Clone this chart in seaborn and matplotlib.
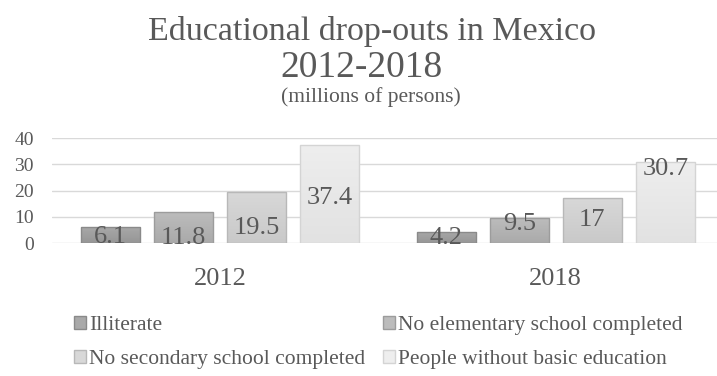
import numpy as np
import pandas as pd
import matplotlib
matplotlib.use("Agg")
import matplotlib.pyplot as plt
import seaborn as sns
from matplotlib.colors import LinearSegmentedColormap
from matplotlib.patches import Patch

# Data (millions of persons)
years = ["2012", "2018"]
groups = [
    "Illiterate",
    "No elementary school completed",
    "No secondary school completed",
    "People without basic education",
]
values_2012 = [6.1, 11.8, 19.5, 37.4]
values_2018 = [4.2, 9.5, 17.0, 30.7]
value_labels_2012 = ["6.1", "11.8", "19.5", "37.4"]
value_labels_2018 = ["4.2", "9.5", "17", "30.7"]

# Vertical placement of the value labels (data units)
label_y_2012 = [2.3, 1.9, 5.7, 17.1]
label_y_2018 = [1.9, 7.2, 8.8, 28.2]

# Gradient fills (top, bottom) and outlines for each group
fill_top = ["#a9a9a9", "#bcbcbc", "#d8d8d8", "#eeeeee"]
fill_bottom = ["#969696", "#aaaaaa", "#c9c9c9", "#e2e2e2"]
edge_colors = ["#8a8a8a", "#9c9c9c", "#b8b8b8", "#d4d4d4"]
text_color = "#595959"
grid_color = "#d9d9d9"

df = pd.DataFrame({
    "year": np.repeat(years, len(groups)),
    "group": groups * len(years),
    "value": values_2012 + values_2018,
})

sns.set_theme(style="white")
plt.rcParams["font.family"] = ["Liberation Serif", "DejaVu Serif"]

fig = plt.figure(figsize=(7.17, 3.76), dpi=100)
ax = fig.add_axes([52 / 717, 1 - 243 / 376, 1 - 52 / 717, 105 / 376])

sns.barplot(
    data=df, x="year", y="value", hue="group", order=years, hue_order=groups,
    palette=fill_top, width=0.87, gap=0.19, ax=ax, legend=False,
    linewidth=1.0, saturation=1,
)

ax.set_xlim(-0.5, 1.48)
ax.set_ylim(0, 40)
ax.set_yticks([0, 10, 20, 30, 40])
ax.set_xlabel("")
ax.set_ylabel("")
ax.yaxis.grid(True, color=grid_color, linewidth=1.0)
ax.set_axisbelow(True)
for s in ax.spines.values():
    s.set_visible(False)
ax.tick_params(axis="x", length=0, pad=18, labelsize=19, labelcolor=text_color)
ax.tick_params(axis="y", length=0, pad=13, labelsize=14, labelcolor=text_color)

# Gradient fill for each bar, clipped to the bar outline
bars = [p for p in ax.patches if p.get_height() > 0]
bars_by_group = [bars[i * len(years):(i + 1) * len(years)] for i in range(len(groups))]
grad = np.linspace(0, 1, 64).reshape(-1, 1)
for gi, group_bars in enumerate(bars_by_group):
    cmap = LinearSegmentedColormap.from_list(f"g{gi}", [fill_top[gi], fill_bottom[gi]])
    for p in group_bars:
        x0, y0 = p.get_x(), p.get_y()
        w, h = p.get_width(), p.get_height()
        im = ax.imshow(grad, cmap=cmap, aspect="auto", origin="upper",
                       extent=(x0, x0 + w, y0, y0 + h), zorder=p.get_zorder())
        im.set_clip_path(p)
        p.set_facecolor("none")
        p.set_edgecolor(edge_colors[gi])
        p.set_zorder(p.get_zorder() + 0.1)
ax.set_xlim(-0.5, 1.48)
ax.set_ylim(0, 40)

# Value labels
label_sets = [value_labels_2012, value_labels_2018]
ypos_sets = [label_y_2012, label_y_2018]
for gi, group_bars in enumerate(bars_by_group):
    for yi, p in enumerate(group_bars):
        ax.text(p.get_x() + p.get_width() / 2, ypos_sets[yi][gi], label_sets[yi][gi],
                ha="center", va="center", fontsize=19, color=text_color, zorder=5)

# Title block
fig.text(372 / 717, 1 - 40 / 376, "Educational drop-outs in Mexico", ha="center",
         va="baseline", fontsize=24.5, color=text_color)
fig.text(361 / 717, 1 - 77 / 376, "2012-2018", ha="center", va="baseline",
         fontsize=27, color=text_color)
fig.text(371 / 717, 1 - 102 / 376, "(millions of persons)", ha="center", va="baseline",
         fontsize=15.5, color=text_color)

# Legend, filled row by row
order = [0, 2, 1, 3]
handles = [Patch(facecolor=fill_top[i], edgecolor=edge_colors[i], linewidth=1.0)
           for i in range(len(groups))]
fig.legend([handles[i] for i in order], [groups[i] for i in order], ncol=2,
           loc="upper left", bbox_to_anchor=(74 / 717, 1 - 316 / 376), frameon=False,
           fontsize=15.5, labelcolor=text_color, handlelength=0.55, handleheight=0.55,
           handletextpad=0.15, columnspacing=0.83, labelspacing=0.7,
           borderaxespad=0, borderpad=0)

fig.savefig("out.png", dpi=100)
